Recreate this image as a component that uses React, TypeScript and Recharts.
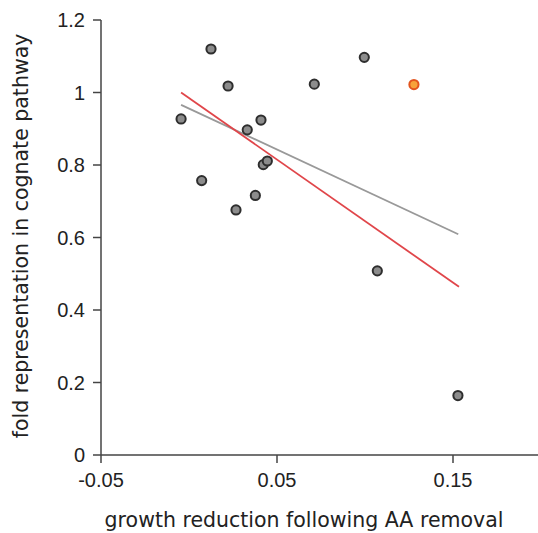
import {
  ScatterChart,
  Scatter,
  XAxis,
  YAxis,
  ReferenceLine,
  Label,
} from "recharts";

// growth reduction (x) vs fold representation (y)
const growthReduction = [
  -0.0045, 0.0125, 0.0222, 0.0072, 0.0267, 0.0331, 0.0409, 0.0377, 0.0422,
  0.0445, 0.0712, 0.0996, 0.107, 0.1528,
];
const foldRepresentation = [
  0.927, 1.12, 1.018, 0.757, 0.676, 0.897, 0.924, 0.716, 0.801, 0.811, 1.023,
  1.097, 0.508, 0.164,
];
const highlightX = [0.1278];
const highlightY = [1.022];

const redFitX = [-0.0045, 0.1534];
const redFitY = [1.0, 0.464];
const grayFitX = [-0.0045, 0.153];
const grayFitY = [0.966, 0.609];

const xTicks = [-0.05, 0.05, 0.15];
const yTicks = [0, 0.2, 0.4, 0.6, 0.8, 1, 1.2];

const points = growthReduction.map((x, i) => ({ x, y: foldRepresentation[i] }));
const highlight = highlightX.map((x, i) => ({ x, y: highlightY[i] }));

const axisColor = "#444";
const tickStyle = { fill: "#222", fontSize: 20, fontFamily: "'Liberation Sans', Arial, sans-serif" };
const labelFont = "'DejaVu Sans', Verdana, sans-serif";

const dot = (fill: string, stroke: string) => (props: any) => (
  <circle cx={props.cx} cy={props.cy} r={4.6} fill={fill} stroke={stroke} strokeWidth={2} />
);

export default function App() {
  return (
    <div
      style={{
        position: "absolute",
        left: 0,
        top: 0,
        width: 538,
        height: 533,
        overflow: "hidden",
        background: "#fff",
      }}
    >
      <ScatterChart width={545} height={533} margin={{ top: 20, right: 4, bottom: 48, left: 0 }}>
        <XAxis
          type="number"
          dataKey="x"
          domain={[-0.05, 0.2]}
          ticks={xTicks}
          allowDataOverflow
          height={30}
          stroke={axisColor}
          strokeWidth={1.5}
          tickSize={8}
          tickMargin={10}
          tick={tickStyle}
        >
          <Label
            content={() => (
              <text x={304} y={527} textAnchor="middle" fontSize={20.5} fontFamily={labelFont} fill="#222">
                growth reduction following AA removal
              </text>
            )}
          />
        </XAxis>
        <YAxis
          type="number"
          dataKey="y"
          domain={[0, 1.2]}
          ticks={yTicks}
          width={101}
          stroke={axisColor}
          strokeWidth={1.5}
          tickSize={8}
          tickMargin={8}
          tick={tickStyle}
        >
          <Label
            content={() => (
              <text
                x={28}
                y={236}
                transform="rotate(-90, 28, 236)"
                textAnchor="middle"
                fontSize={20.5}
                fontFamily={labelFont}
                fill="#222"
              >
                fold representation in cognate pathway
              </text>
            )}
          />
        </YAxis>
        <ReferenceLine
          segment={[
            { x: grayFitX[0], y: grayFitY[0] },
            { x: grayFitX[1], y: grayFitY[1] },
          ]}
          stroke="#999"
          strokeWidth={1.8}
        />
        <ReferenceLine
          segment={[
            { x: redFitX[0], y: redFitY[0] },
            { x: redFitX[1], y: redFitY[1] },
          ]}
          stroke="#e0464a"
          strokeWidth={1.8}
        />
        <Scatter data={points} shape={dot("#8c8c8c", "#2e2e2e")} isAnimationActive={false} />
        <Scatter data={highlight} shape={dot("#f7a23a", "#e2541e")} isAnimationActive={false} />
      </ScatterChart>
    </div>
  );
}
